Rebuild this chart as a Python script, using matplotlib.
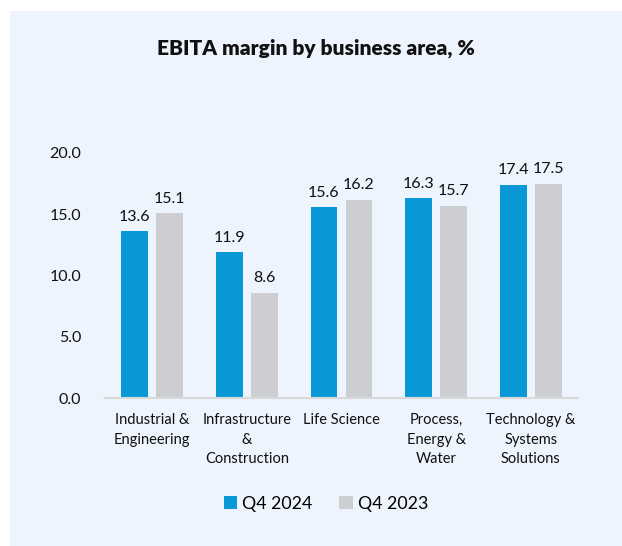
import numpy as np
import matplotlib
matplotlib.use("Agg")
import matplotlib.pyplot as plt
from matplotlib.patches import Rectangle

plt.rcParams["font.family"] = ["Lato", "DejaVu Sans"]

# ---------- Data ----------
categories = ["Industrial &\nEngineering", "Infrastructure\n&\nConstruction",
              "Life Science", "Process,\nEnergy &\nWater",
              "Technology &\nSystems\nSolutions"]
q4_2024 = [13.6, 11.9, 15.6, 16.3, 17.4]
q4_2023 = [15.1, 8.6, 16.2, 15.7, 17.5]
series_names = ["Q4 2024", "Q4 2023"]

BLUE = "#0898D6"
GREY = "#CDCED2"
BG = "#EDF4FD"

fig = plt.figure(figsize=(6.22, 5.46), dpi=100)
fig.patch.set_facecolor("white")
# light blue panel behind the chart
fig.patches.append(Rectangle((10 / 622, 0), 1, 1 - 11 / 546, transform=fig.transFigure,
                             facecolor=BG, edgecolor="none", linewidth=0, zorder=-1))

ax = fig.add_axes([105 / 622, 1 - 398 / 546, (578 - 105) / 622, (398 - 153) / 546])
ax.set_facecolor("none")

x = np.arange(len(categories))
w = 0.285
off = 0.185
b1 = ax.bar(x - off, q4_2024, w, color=BLUE, label=series_names[0])
b2 = ax.bar(x + off, q4_2023, w, color=GREY, label=series_names[1])

for bars in (b1, b2):
    for r in bars:
        ax.text(r.get_x() + r.get_width() / 2, r.get_height() + 0.6,
                f"{r.get_height():.1f}", ha="center", va="bottom",
                fontsize=11.5, color="#111111")

ax.set_xlim(-0.5, len(categories) - 0.5)
ax.set_ylim(0, 20)
ax.set_yticks([0, 5, 10, 15, 20])
ax.set_yticklabels([f"{v:.1f}" for v in [0, 5, 10, 15, 20]])
ax.set_xticks(x)
ax.set_xticklabels(categories, multialignment="center", linespacing=1.5)
ax.tick_params(axis="y", length=0, labelsize=11.5, pad=17, labelcolor="#111111")
ax.tick_params(axis="x", length=0, labelsize=10.5, pad=11, labelcolor="#111111")

for s in ["top", "right", "left"]:
    ax.spines[s].set_visible(False)
ax.spines["bottom"].set_color("#D9D9D9")
ax.spines["bottom"].set_linewidth(1.5)

fig.text(316 / 622, 1 - 48 / 546, "EBITA margin by business area, %",
         ha="center", va="center", fontsize=15, fontweight="heavy", color="#111111")

ax.legend(loc="center", bbox_to_anchor=(326 / 622, 1 - 504 / 546),
          bbox_transform=fig.transFigure, ncol=2, frameon=False,
          fontsize=12.8, handlelength=0.75, handleheight=0.75,
          handletextpad=0.3, columnspacing=1.5)

fig.savefig("out.png", dpi=100, facecolor=fig.get_facecolor())
